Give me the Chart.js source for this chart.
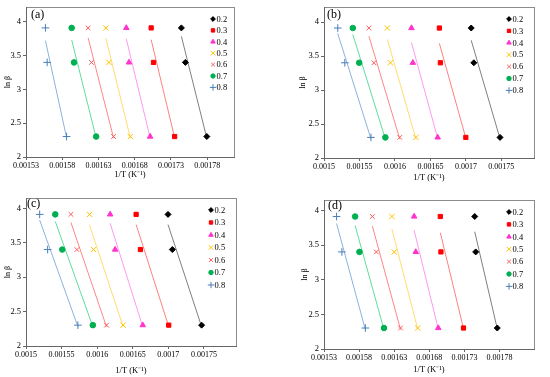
<!DOCTYPE html>
<html>
<head>
<meta charset="utf-8">
<script src="https://cdn.jsdelivr.net/npm/chart.js@4.4.1/dist/chart.umd.min.js"></script>
<style>
  body { margin: 0; background: #fff; }
  #wrap { position: relative; width: 550px; height: 377px; overflow: hidden; }
  canvas { position: absolute; }
</style>
</head>
<body>
<div id="wrap">
  <canvas id="chartA" width="275" height="188" style="left:0;top:0"></canvas>
  <canvas id="chartB" width="275" height="188" style="left:275px;top:0"></canvas>
  <canvas id="chartC" width="275" height="189" style="left:0;top:188px"></canvas>
  <canvas id="chartD" width="275" height="189" style="left:275px;top:188px"></canvas>
</div>
<script>
// conversion degree for each series, ln(beta) for beta = 50, 30, 10 K/min
const conversions = ['0.2', '0.3', '0.4', '0.5', '0.6', '0.7', '0.8'];
const lnBeta = [3.912, 3.401, 2.303];

const yTicks = [2, 2.5, 3, 3.5, 4];
const yLabels = ['2', '2.5', '3', '3.5', '4'];
const xTicksA = [0.00153, 0.00158, 0.00163, 0.00168, 0.00173, 0.00178];
const xLabelsA = ['0.00153', '0.00158', '0.00163', '0.00168', '0.00173', '0.00178'];
const xTicksB = [0.0015, 0.00155, 0.0016, 0.00165, 0.0017, 0.00175];
const xLabelsB = ['0.0015', '0.00155', '0.0016', '0.00165', '0.0017', '0.00175'];

// 1/T values (K^-1), one row per conversion, in the order of lnBeta
const invTA = [
    [0.0017444, 0.0017499, 0.0017795],
    [0.0017027, 0.0017059, 0.0017351],
    [0.0016684, 0.0016721, 0.0017013],
    [0.0016402, 0.0016444, 0.0016740],
    [0.0016157, 0.0016203, 0.0016508],
    [0.0015930, 0.0015962, 0.0016268],
    [0.0015568, 0.0015592, 0.0015860]
];
const invTB = [
    [0.0017075, 0.0017112, 0.0017481],
    [0.0016626, 0.0016640, 0.0016999],
    [0.0016233, 0.0016252, 0.0016602],
    [0.0015893, 0.0015936, 0.0016295],
    [0.0015633, 0.0015704, 0.0016068],
    [0.0015406, 0.0015496, 0.0015865],
    [0.0015194, 0.0015293, 0.0015662]
];
const invTC = [
    [0.0016995, 0.0017056, 0.0017467],
    [0.0016547, 0.0016607, 0.0017005],
    [0.0016182, 0.0016252, 0.0016640],
    [0.0015893, 0.0015949, 0.0016364],
    [0.0015631, 0.0015715, 0.0016131],
    [0.0015411, 0.0015509, 0.0015939],
    [0.0015192, 0.0015304, 0.0015729]
];
const invTD = [
    [0.0017446, 0.0017460, 0.0017767],
    [0.0016956, 0.0016965, 0.0017286],
    [0.0016583, 0.0016607, 0.0016927],
    [0.0016267, 0.0016300, 0.0016635],
    [0.0015989, 0.0016045, 0.0016390],
    [0.0015743, 0.0015805, 0.0016154],
    [0.0015479, 0.0015555, 0.0015889]
];

const FONT = "'Liberation Serif', 'Times New Roman', serif";

const markerStyles = [
    { style: 'rectRot', color: '#000000', line: '#7f7f7f', r: 3 },
    { style: 'rect', color: '#ff0000', line: '#ff8080', r: 3 },
    { style: 'triangle', color: '#ff33cc', line: '#ff99ee', r: 3.2 },
    { style: 'crossRot', color: '#ffc000', line: '#ffdc70', r: 3.8 },
    { style: 'crossRot', color: '#ff5a5a', line: '#ff8585', r: 3.3 },
    { style: 'circle', color: '#00b050', line: '#5fdc9f', r: 2.8 },
    { style: 'cross', color: '#4a7ebb', line: '#8cb2da', r: 3.8 }
];

// least squares line of ln(beta) on 1/T, drawn across the data range
function trendLine(xs) {
    const n = xs.length;
    const mx = xs.reduce((a, b) => a + b, 0) / n;
    const my = lnBeta.reduce((a, b) => a + b, 0) / n;
    let sxy = 0, sxx = 0;
    xs.forEach((x, i) => {
        sxy += (x - mx) * (lnBeta[i] - my);
        sxx += (x - mx) * (x - mx);
    });
    const slope = sxy / sxx;
    const x0 = Math.min(...xs), x1 = Math.max(...xs);
    return [
        { x: x0, y: my + slope * (x0 - mx) },
        { x: x1, y: my + slope * (x1 - mx) }
    ];
}

const panelPlugin = {
    id: 'panelDeco',
    beforeDraw(chart) {
        const a = chart.chartArea;
        const ctx = chart.ctx;
        ctx.save();
        ctx.strokeStyle = '#8c8c8c';
        ctx.lineWidth = 1;
        ctx.strokeRect(Math.round(a.left) + 0.5, Math.round(a.top) + 0.5,
            Math.round(a.right - a.left), Math.round(a.bottom - a.top));
        ctx.restore();
    },
    afterDraw(chart) {
        const o = chart.options.plugins.panelDeco;
        const ctx = chart.ctx;
        ctx.save();
        ctx.fillStyle = '#000';
        ctx.font = '12px ' + FONT;
        ctx.textBaseline = 'middle';
        ctx.fillText(o.label, o.labelX, o.labelY);

        ctx.font = '8.5px ' + FONT;
        conversions.forEach((c, i) => {
            const m = markerStyles[i];
            const y = o.legY + i * o.legStep;
            ctx.fillStyle = m.color;
            ctx.strokeStyle = m.color;
            ctx.lineWidth = 1;
            Chart.helpers.drawPoint(ctx, { pointStyle: m.style, rotation: 0, radius: m.r - 0.6, borderWidth: 1 }, o.legX, y);
            ctx.fillStyle = '#000';
            ctx.fillText(c, o.legX + 3.5, y + 0.5);
        });
        ctx.restore();
    }
};

function makePanel(id, cfg) {
    const datasets = [];
    cfg.data.forEach((xs, i) => {
        const m = markerStyles[i];
        datasets.push({
            type: 'scatter',
            data: xs.map((x, j) => ({ x: x, y: lnBeta[j] })),
            pointStyle: m.style,
            pointRadius: m.r,
            pointBackgroundColor: m.color,
            pointBorderColor: m.color,
            pointBorderWidth: 1,
            order: 1
        });
        datasets.push({
            type: 'line',
            data: trendLine(xs),
            borderColor: m.line,
            borderWidth: 1,
            pointRadius: 0,
            fill: false,
            order: 2
        });
    });

    new Chart(document.getElementById(id), {
        type: 'scatter',
        data: { datasets: datasets },
        options: {
            responsive: false,
            animation: false,
            devicePixelRatio: 1,
            layout: { padding: cfg.pad },
            plugins: {
                legend: { display: false },
                tooltip: { enabled: false },
                panelDeco: cfg.deco
            },
            scales: {
                x: {
                    type: 'linear',
                    min: cfg.xTicks[0],
                    max: cfg.xMax,
                    afterBuildTicks: (axis) => { axis.ticks = cfg.xTicks.map(v => ({ value: v })); },
                    afterFit: (axis) => { axis.height = cfg.xH; },
                    grid: { drawOnChartArea: false, tickLength: 3, color: '#666' },
                    border: { color: '#666' },
                    ticks: {
                        padding: 1,
                        maxRotation: 0,
                        autoSkip: false,
                        color: '#000',
                        font: { family: FONT, size: 8 },
                        callback: (v, i) => cfg.xLabels[i]
                    },
                    title: {
                        display: true,
                        text: '1/T (K\u207B\u00B9)',
                        color: '#000',
                        padding: 0,
                        font: { family: FONT, size: 8.5 }
                    }
                },
                y: {
                    min: 2,
                    max: cfg.yMax,
                    afterBuildTicks: (axis) => { axis.ticks = yTicks.map(v => ({ value: v })); },
                    afterFit: (axis) => { axis.width = cfg.yW; },
                    grid: { drawOnChartArea: false, tickLength: 3, color: '#666' },
                    border: { color: '#666' },
                    ticks: {
                        padding: 2,
                        color: '#000',
                        font: { family: FONT, size: 8.5 },
                        callback: (v, i) => yLabels[i]
                    },
                    title: {
                        display: true,
                        text: 'ln \u03B2',
                        color: '#000',
                        padding: 0,
                        font: { family: FONT, size: 8 }
                    }
                }
            }
        },
        plugins: [panelPlugin]
    });
}

makePanel('chartA', {
    data: invTA, xTicks: xTicksA, xLabels: xLabelsA, xMax: 0.001817, yMax: 4.22,
    pad: { left: 3, top: 5, right: 41, bottom: 8 }, yW: 23, xH: 23,
    deco: { label: '(a)', labelX: 31, labelY: 15, legX: 213, legY: 19, legStep: 11.4 }
});
makePanel('chartB', {
    data: invTB, xTicks: xTicksB, xLabels: xLabelsB, xMax: 0.001796, yMax: 4.22,
    pad: { left: 23, top: 5, right: 16, bottom: 5 }, yW: 26, xH: 25,
    deco: { label: '(b)', labelX: 52, labelY: 15, legX: 234, legY: 19, legStep: 11.9 }
});
makePanel('chartC', {
    data: invTC, xTicks: xTicksB, xLabels: xLabelsB, xMax: 0.001795, yMax: 4.15,
    pad: { left: 3, top: 10, right: 39, bottom: 1 }, yW: 23, xH: 30,
    deco: { label: '(c)', labelX: 27, labelY: 16, legX: 211, legY: 22, legStep: 12.5 }
});
makePanel('chartD', {
    data: invTD, xTicks: xTicksA, xLabels: xLabelsA, xMax: 0.001829, yMax: 4.15,
    pad: { left: 25, top: 12, right: 16, bottom: 2 }, yW: 24, xH: 26,
    deco: { label: '(d)', labelX: 53, labelY: 18, legX: 234, legY: 24, legStep: 12.4 }
});
</script>
</body>
</html>
